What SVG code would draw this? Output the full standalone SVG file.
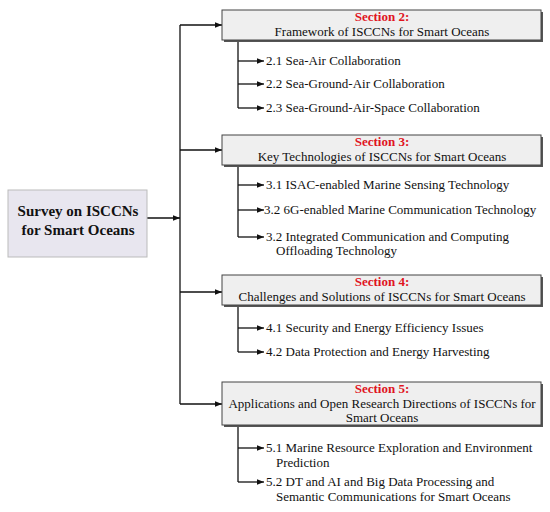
<svg xmlns="http://www.w3.org/2000/svg" width="550" height="512" viewBox="0 0 550 512">
<style>
.t{font-family:"Liberation Serif","Times New Roman",serif;font-size:13px;fill:#111}
.h{font-family:"Liberation Serif","Times New Roman",serif;font-size:13px;font-weight:bold;fill:#e0141e}
.m{font-family:"Liberation Serif","Times New Roman",serif;font-size:15px;font-weight:bold;fill:#111}
.box{fill:#efefef;stroke:#444;stroke-width:1}
.sh{fill:#555}
.ln{fill:none;stroke:#111;stroke-width:1.3}
</style>
<defs>
<marker id="a" viewBox="0 0 10 10" refX="10" refY="5" markerWidth="7" markerHeight="7" markerUnits="userSpaceOnUse" orient="auto">
<path d="M0,1 L10,5 L0,9 z" fill="#111"/>
</marker>
</defs>
<rect width="550" height="512" fill="#fff"/>
<g id="connectors">
<path class="ln" d="M147,218 H180" marker-end="url(#a)"/>
<path class="ln" d="M180,25 V404"/>
<path class="ln" d="M180,25 H222" marker-end="url(#a)"/>
<path class="ln" d="M180,150 H222" marker-end="url(#a)"/>
<path class="ln" d="M180,292 H222" marker-end="url(#a)"/>
<path class="ln" d="M180,404 H222" marker-end="url(#a)"/>
<path class="ln" d="M238,40 V108"/>
<path class="ln" d="M238,61 H264" marker-end="url(#a)"/>
<path class="ln" d="M238,84 H264" marker-end="url(#a)"/>
<path class="ln" d="M238,108 H264" marker-end="url(#a)"/>
<path class="ln" d="M238,165 V237"/>
<path class="ln" d="M238,185 H264" marker-end="url(#a)"/>
<path class="ln" d="M238,210 H264" marker-end="url(#a)"/>
<path class="ln" d="M238,237 H264" marker-end="url(#a)"/>
<path class="ln" d="M238,305 V352"/>
<path class="ln" d="M238,328 H264" marker-end="url(#a)"/>
<path class="ln" d="M238,352 H264" marker-end="url(#a)"/>
<path class="ln" d="M238,425 V482"/>
<path class="ln" d="M238,448 H264" marker-end="url(#a)"/>
<path class="ln" d="M238,482 H264" marker-end="url(#a)"/>
</g>
<g id="main">
<rect x="8" y="190" width="139" height="67" fill="#e8e6ef" stroke="#bbb" stroke-width="1"/>
<text class="m" x="78" y="216" text-anchor="middle">Survey on ISCCNs</text>
<text class="m" x="78" y="235" text-anchor="middle">for Smart Oceans</text>
</g>
<g id="sec2">
<rect class="sh" x="224" y="12" width="319" height="30"/>
<rect class="box" x="222" y="10" width="319" height="30"/>
<text class="h" x="382" y="21" text-anchor="middle">Section 2:</text>
<text class="t" x="382" y="36" text-anchor="middle">Framework of ISCCNs for Smart Oceans</text>
</g>
<g id="s21"><text class="t" x="266" y="65">2.1 Sea-Air Collaboration</text></g>
<g id="s22"><text class="t" x="266" y="88">2.2 Sea-Ground-Air Collaboration</text></g>
<g id="s23"><text class="t" x="266" y="112">2.3 Sea-Ground-Air-Space Collaboration</text></g>
<g id="sec3">
<rect class="sh" x="224" y="137" width="319" height="30"/>
<rect class="box" x="222" y="135" width="319" height="30"/>
<text class="h" x="382" y="146" text-anchor="middle">Section 3:</text>
<text class="t" x="382" y="161" text-anchor="middle">Key Technologies of ISCCNs for Smart Oceans</text>
</g>
<g id="s31"><text class="t" x="266" y="189">3.1 ISAC-enabled Marine Sensing Technology</text></g>
<g id="s32"><text class="t" x="264" y="214">3.2 6G-enabled Marine Communication Technology</text></g>
<g id="s33"><text class="t" x="266" y="241">3.2 Integrated Communication and Computing</text><text class="t" x="276" y="255">Offloading Technology</text></g>
<g id="sec4">
<rect class="sh" x="224" y="277" width="319" height="30"/>
<rect class="box" x="222" y="275" width="319" height="30"/>
<text class="h" x="382" y="286" text-anchor="middle">Section 4:</text>
<text class="t" x="382" y="301" text-anchor="middle">Challenges and Solutions of ISCCNs for Smart Oceans</text>
</g>
<g id="s41"><text class="t" x="266" y="332">4.1 Security and Energy Efficiency Issues</text></g>
<g id="s42"><text class="t" x="266" y="356">4.2 Data Protection and Energy Harvesting</text></g>
<g id="sec5">
<rect class="sh" x="224" y="384" width="319" height="43"/>
<rect class="box" x="222" y="382" width="319" height="43"/>
<text class="h" x="382" y="393" text-anchor="middle">Section 5:</text>
<text class="t" x="382" y="408" text-anchor="middle">Applications and Open Research Directions of ISCCNs for</text>
<text class="t" x="382" y="421.5" text-anchor="middle">Smart Oceans</text>
</g>
<g id="s51"><text class="t" x="266" y="452">5.1 Marine Resource Exploration and Environment</text><text class="t" x="276" y="467">Prediction</text></g>
<g id="s52"><text class="t" x="266" y="486">5.2 DT and AI and Big Data Processing and</text><text class="t" x="276" y="501">Semantic Communications for Smart Oceans</text></g>
</svg>
